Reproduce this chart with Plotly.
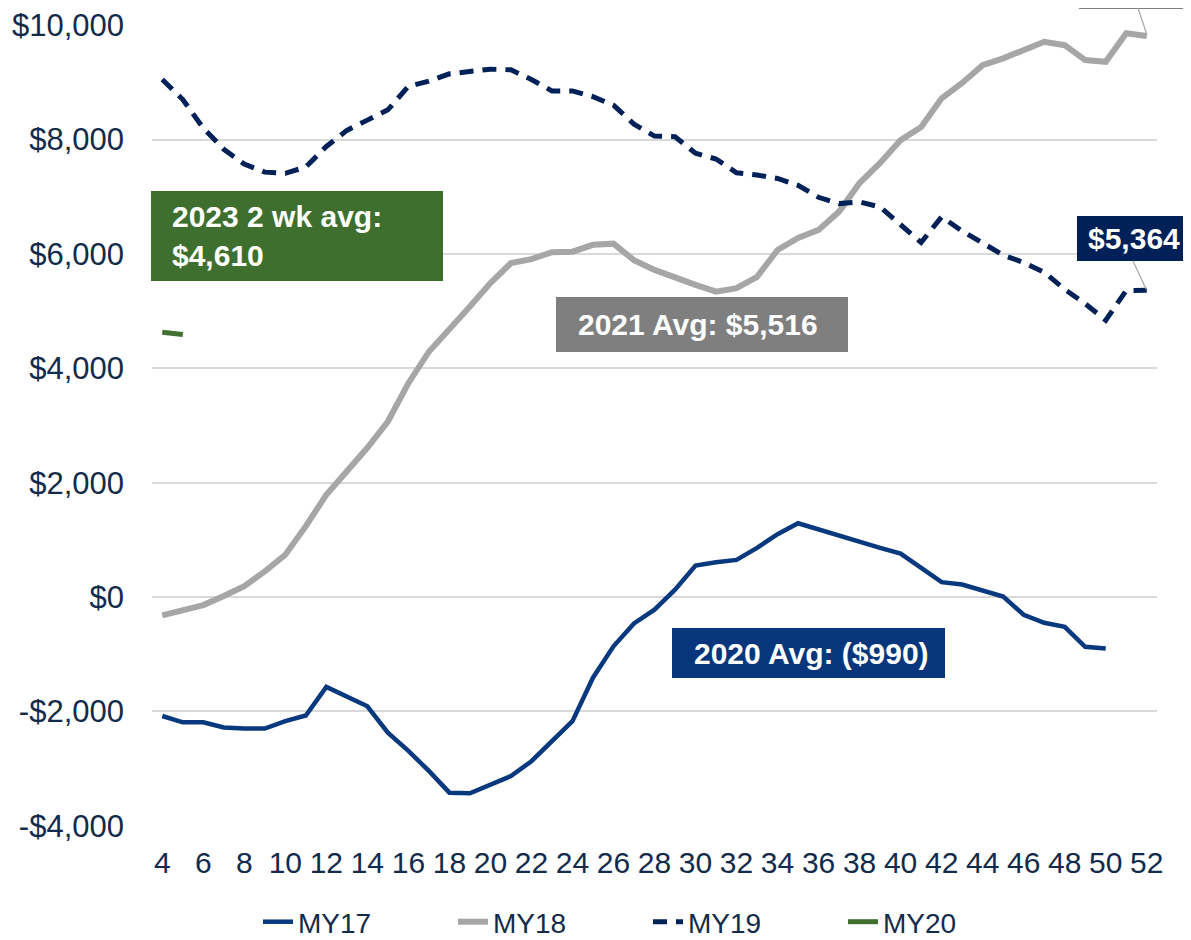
import plotly.graph_objects as go

# weekly values, weeks 4..52
weeks = list(range(4, 53))

my17 = [-2080, -2190, -2190, -2280, -2300, -2300, -2170, -2070, -1570, -1730,
        -1910, -2370, -2690, -3040, -3420, -3430, -3280, -3130, -2870, -2520,
        -2170, -1410, -860, -460, -220, 130, 550, 610, 650, 860,
        1100, 1290, 1180, 1060, 970, 860, 760, 510, 260, 220,
        120, 10, -310, -450, -520, -870, -900]

my18 = [-320, -240, -140, 20, 190, 450, 740, 1240, 1790, 2200,
        2610, 3070, 3740, 4290, 4670, 5080, 5490, 5840, 5910, 6030,
        6040, 6160, 6180, 5890, 5720, 5580, 5460, 5340, 5400, 5600,
        6070, 6280, 6420, 6740, 7240, 7590, 7990, 8220, 8720, 8990,
        9300, 9420, 9560, 9710, 9650, 9390, 9360, 9860, 9810]

my19 = [9050, 8700, 8200, 7830, 7570, 7430, 7410, 7520, 7880, 8160,
        8340, 8520, 8930, 9020, 9150, 9190, 9230, 9220, 9050, 8850,
        8850, 8750, 8600, 8270, 8060, 8050, 7760, 7660, 7420, 7380,
        7320, 7200, 6990, 6880, 6910, 6820, 6510, 6200, 6650, 6400,
        6190, 5980, 5850, 5680, 5380, 5130, 4840, 5360, 5364]

my20 = [4630, 4590]

x_ticks = list(range(4, 53, 2))
y_ticks = [-4000, -2000, 0, 2000, 4000, 6000, 8000, 10000]
y_labels = ["-$4,000", "-$2,000", "$0", "$2,000", "$4,000", "$6,000", "$8,000", "$10,000"]

FONT = "Liberation Sans, Arial, sans-serif"
TXT = "#132B4B"

# page body has an 8px margin, so the figure is shifted by OFF
OFF = 8
W, H = 1191 - OFF, 940 - OFF
# plot area in page pixels
PL, PR, PT, PB = 152, 1157, 25, 826


def px_x(p):
    return (p - PL) / (PR - PL)


def px_y(p):
    return (PB - p) / (PB - PT)


fig = go.Figure()
fig.add_trace(go.Scatter(x=weeks[:len(my17)], y=my17, name="MY17", mode="lines",
                         line=dict(color="#08397F", width=4.5)))
fig.add_trace(go.Scatter(x=weeks, y=my18, name="MY18", mode="lines",
                         line=dict(color="#A6A6A6", width=6)))
fig.add_trace(go.Scatter(x=weeks, y=my19, name="MY19", mode="lines",
                         line=dict(color="#002157", width=5, dash="14px,9px")))
fig.add_trace(go.Scatter(x=weeks[:len(my20)], y=my20, name="MY20", mode="lines",
                         line=dict(color="#3F7030", width=5)))

# label boxes: (left, top, right, bottom, color, text, text_left)
boxes = [
    (151, 191, 443, 281, "#3F6F2F", "2023 2 wk avg:<br>$4,610", 170),
    (556, 297, 848, 352, "#7F7F7F", "2021 Avg: $5,516", 576),
    (672, 628, 945, 678, "#07367C", "2020 Avg: ($990)", 692),
    (1077, 216, 1195, 261, "#002157", "$5,364", 1086),
]
for x0, y0, x1, y1, col, txt, tx in boxes:
    fig.add_shape(type="rect", xref="paper", yref="paper",
                  x0=px_x(x0), x1=px_x(x1), y0=px_y(y1), y1=px_y(y0),
                  fillcolor=col, line_width=0, layer="above")
    fig.add_annotation(xref="paper", yref="paper", x=px_x(tx), y=px_y((y0 + y1) / 2),
                       xanchor="left", yanchor="middle", showarrow=False, align="left",
                       text=txt, font=dict(family=FONT, size=30, color="white", weight="bold"))

# cut-off label box at top right
fig.add_shape(type="rect", xref="paper", yref="paper",
              x0=px_x(1079), x1=px_x(1189), y0=px_y(9), y1=px_y(-40),
              fillcolor="#7F7F7F", line_width=0, layer="above")

# leader lines
for (ax, ay, bx, by) in [(1133, 261, 1146, 289), (1138, 8, 1147, 35)]:
    fig.add_shape(type="line", xref="paper", yref="paper",
                  x0=px_x(ax), y0=px_y(ay), x1=px_x(bx), y1=px_y(by),
                  line=dict(color="#A6A6A6", width=1.2), layer="above")

fig.update_layout(
    width=W, height=H,
    margin=dict(l=PL - OFF, r=W - (PR - OFF), t=PT - OFF, b=H - (PB - OFF), autoexpand=False),
    plot_bgcolor="white",
    paper_bgcolor="white",
    font=dict(family=FONT, size=30, color=TXT),
    xaxis=dict(range=[3.5, 52.5], tickvals=x_ticks, showgrid=False, zeroline=False,
               showline=False, ticks="", ticklabelstandoff=16, automargin=False,
               tickfont=dict(family=FONT, size=30, color=TXT)),
    yaxis=dict(range=[-4003, 10003], tickvals=y_ticks, ticktext=y_labels,
               showgrid=True, gridcolor="#D9D9D9", gridwidth=1.5, zeroline=False,
               showline=False, ticks="", ticklabelstandoff=27, automargin=False,
               tickfont=dict(family=FONT, size=31, color=TXT)),
    legend=dict(orientation="h", xref="container", yref="container",
                x=(258 - OFF) / W, xanchor="left", y=1 - (922 - OFF) / H, yanchor="middle",
                font=dict(family=FONT, size=28, color=TXT),
                entrywidth=150, entrywidthmode="pixels", bgcolor="rgba(0,0,0,0)"),
    showlegend=True,
)

fig.write_html("out.html")
